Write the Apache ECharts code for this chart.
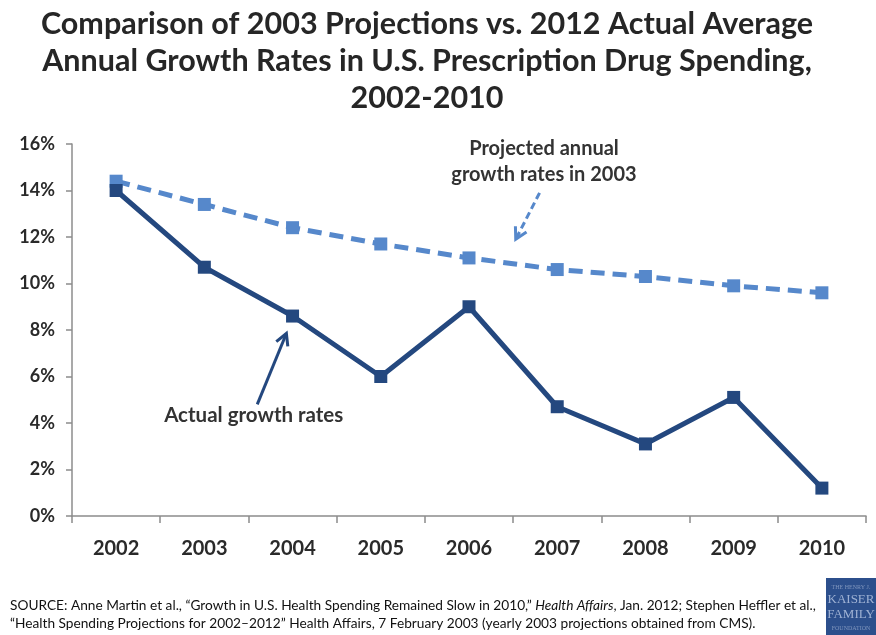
<!DOCTYPE html>
<html>
<head>
<meta charset="utf-8">
<style>
  html, body { margin: 0; padding: 0; background: #fff; }
  #chart { width: 876px; height: 635px; }
</style>
<script src="https://cdn.jsdelivr.net/npm/echarts@6/dist/echarts.min.js"></script>
</head>
<body>
<div id="chart"></div>
<script>
// Years on the horizontal axis
var years = ['2002', '2003', '2004', '2005', '2006', '2007', '2008', '2009', '2010'];
// Average annual growth in prescription drug spending (percent)
var actualGrowth = [14.0, 10.7, 8.6, 6.0, 9.0, 4.7, 3.1, 5.1, 1.2];
var projectedGrowth = [14.4, 13.4, 12.4, 11.7, 11.1, 10.6, 10.3, 9.9, 9.6];
// Vertical axis ticks
var yTicks = [0, 2, 4, 6, 8, 10, 12, 14, 16];

var FONT = 'Lato, "Open Sans", sans-serif';
var navy = '#24487f';
var lightBlue = '#5688cb';

var chart = echarts.init(document.getElementById('chart'), null, { renderer: 'canvas' });

var option = {
  backgroundColor: '#fff',
  animation: false,
  grid: { left: 72, right: 10, top: 144, bottom: 119, containLabel: false },
  xAxis: {
    type: 'category',
    data: years,
    boundaryGap: true,
    axisLine: { lineStyle: { color: '#8c8c8c', width: 1.5 } },
    axisTick: { show: true, length: 7, lineStyle: { color: '#8c8c8c', width: 1.5 } },
    axisLabel: { margin: 23, fontFamily: FONT, fontWeight: 'bold', fontSize: 20, color: '#2a2a2a' }
  },
  yAxis: {
    type: 'value',
    min: yTicks[0],
    max: yTicks[yTicks.length - 1],
    interval: 2,
    axisLine: { show: true, lineStyle: { color: '#8c8c8c', width: 1.5 } },
    axisTick: { show: true, length: 6, lineStyle: { color: '#8c8c8c', width: 1.5 } },
    splitLine: { show: false },
    axisLabel: {
      margin: 17, fontFamily: FONT, fontWeight: 'bold', fontSize: 18, color: '#2a2a2a',
      formatter: function (v) { return v + '%'; }
    }
  },
  series: [
    {
      name: 'Projected',
      type: 'line',
      data: projectedGrowth,
      symbol: 'rect',
      symbolSize: 13,
      z: 2,
      lineStyle: { color: lightBlue, width: 5, type: [14, 8] },
      itemStyle: { color: lightBlue }
    },
    {
      name: 'Actual',
      type: 'line',
      data: actualGrowth,
      symbol: 'rect',
      symbolSize: 13,
      z: 3,
      lineStyle: { color: navy, width: 5 },
      itemStyle: { color: navy }
    }
  ]
};
chart.setOption(option);

// Callout labels and arrows, placed in data space (fractional category index, percent)
var c0 = chart.convertToPixel({ gridIndex: 0 }, [0, 0]);
var c1 = chart.convertToPixel({ gridIndex: 0 }, [1, 1]);
function px(x, y) {
  return [c0[0] + x * (c1[0] - c0[0]), c0[1] + y * (c1[1] - c0[1])];
}
function arrow(from, to, color, dashed) {
  var ang = Math.atan2(to[1] - from[1], to[0] - from[0]);
  var hl = 13, hw = 0.5;
  var a1 = [to[0] - hl * Math.cos(ang - hw), to[1] - hl * Math.sin(ang - hw)];
  var a2 = [to[0] - hl * Math.cos(ang + hw), to[1] - hl * Math.sin(ang + hw)];
  return [
    { type: 'line', shape: { x1: from[0], y1: from[1], x2: to[0], y2: to[1] },
      style: { stroke: color, lineWidth: 3, lineDash: dashed ? [7, 4] : null }, z: 10 },
    { type: 'polyline', shape: { points: [a1, to, a2] },
      style: { stroke: color, lineWidth: 3, fill: null }, z: 10 }
  ];
}

var projFrom = px(4.80, 13.9), projTo = px(4.53, 11.9);
var actFrom = px(1.60, 4.8), actTo = px(1.93, 7.85);
var projLabel = px(4.85, 16.35);
var actLabel = px(1.56, 4.8);

var graphics = [];
// Chart title
graphics.push({
  type: 'text', x: 427, y: 6, z: 10,
  style: {
    text: 'Comparison of 2003 Projections vs. 2012 Actual Average\nAnnual Growth Rates in U.S. Prescription Drug Spending,\n2002-2010',
    align: 'center', verticalAlign: 'top',
    font: 'bold 30.5px ' + FONT, lineHeight: 37, fill: '#262626'
  }
});
graphics.push({
  type: 'text', x: projLabel[0], y: projLabel[1], z: 10,
  style: { text: 'Projected annual\ngrowth rates in 2003', align: 'center', verticalAlign: 'top',
    font: 'bold 20px ' + FONT, lineHeight: 26, fill: '#333' }
});
graphics.push({
  type: 'text', x: actLabel[0], y: actLabel[1], z: 10,
  style: { text: 'Actual growth rates', align: 'center', verticalAlign: 'top',
    font: 'bold 20.5px ' + FONT, fill: '#333' }
});
graphics = graphics.concat(arrow(projFrom, projTo, lightBlue, true));
graphics = graphics.concat(arrow(actFrom, actTo, navy, false));

// Source note
graphics.push({
  type: 'text', left: 10, top: 597, z: 10,
  style: {
    rich: {
      n: { font: '13.7px ' + FONT, fill: '#111' },
      i: { font: 'italic 13.7px ' + FONT, fill: '#111' }
    },
    text: '{n|SOURCE: Anne Martin et al., \u201cGrowth in U.S. Health Spending Remained Slow in 2010,\u201d }{i|Health Affairs}{n|, Jan. 2012; Stephen Heffler et al.,}\n{n|\u201cHealth Spending Projections for 2002\u20132012\u201d Health Affairs, 7 February 2003 (yearly 2003 projections obtained from CMS).}',
    lineHeight: 18
  }
});

// Foundation badge
graphics.push({
  type: 'group', left: 826, top: 578, z: 10,
  children: [
    { type: 'rect', shape: { x: 0, y: 0, width: 50, height: 57 }, style: { fill: '#2c4f8c' } },
    { type: 'text', x: 25, y: 6, style: { text: 'THE HENRY J.', align: 'center', font: '6px serif', fill: '#7f95bd' } },
    { type: 'text', x: 25, y: 15, style: { text: 'KAISER', align: 'center', font: '13px serif', fill: '#9fb2d4' } },
    { type: 'text', x: 25, y: 30, style: { text: 'FAMILY', align: 'center', font: '13px serif', fill: '#9fb2d4' } },
    { type: 'text', x: 25, y: 47, style: { text: 'FOUNDATION', align: 'center', font: '6px serif', fill: '#7f95bd' } }
  ]
});

chart.setOption({ graphic: graphics });
</script>
</body>
</html>
